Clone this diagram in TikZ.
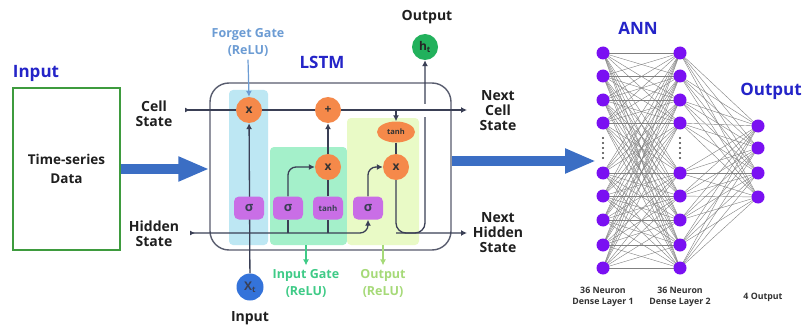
\documentclass[tikz,border=0pt]{standalone}
\usepackage{fontspec}
\setmainfont{Open Sans}
\usetikzlibrary{arrows.meta,shapes.geometric,calc}
\definecolor{ttlblue}{HTML}{2424C8}
\definecolor{lnc}{HTML}{3A3F55}
\definecolor{orng}{HTML}{F5894A}
\definecolor{purp}{HTML}{C96EE6}
\definecolor{fgb}{HTML}{BDE7F3}
\definecolor{igb}{HTML}{A4F0CA}
\definecolor{ogb}{HTML}{E9FAC6}
\definecolor{fgt}{HTML}{6C9CD4}
\definecolor{igt}{HTML}{3FCB87}
\definecolor{ogt}{HTML}{A6DA78}
\definecolor{bigarrow}{HTML}{3B6EC4}
\definecolor{htg}{HTML}{22B15C}
\definecolor{xtb}{HTML}{3473DA}
\definecolor{annp}{HTML}{7A10F2}
\definecolor{boxg}{HTML}{3E9B3E}
\pgfdeclarelayer{bg}
\pgfdeclarelayer{mid}
\pgfsetlayers{bg,mid,main}
\begin{document}
\begin{tikzpicture}[x=1pt,y=-1pt,
  lbl/.style={align=center, font=\bfseries\fontsize{14}{15}\selectfont, text=black!88},
  ttl/.style={font=\bfseries\fontsize{17}{19}\selectfont, text=ttlblue},
  gatelbl/.style={align=center, font=\bfseries\fontsize{12.5}{17}\selectfont},
  mult/.style={circle, fill=orng, minimum size=26pt, inner sep=0pt, font=\bfseries\fontsize{12}{12}\selectfont, text=black!80},
  sig/.style={rounded corners=5pt, fill=purp, minimum width=30pt, minimum height=23pt, inner sep=0pt, font=\bfseries\fontsize{13}{13}\selectfont, text=lnc},
  flow/.style={draw=lnc, line width=1.3pt},
  tip/.style={-{Latex[length=6pt,width=6pt]}},
  neuron/.style={circle, fill=annp, minimum size=13pt, inner sep=0pt},
  syn/.style={draw=black!50, line width=0.4pt},
  bigarr/.style={draw=bigarrow, line width=10pt, -{Triangle[length=31pt,width=23pt]}},
  annlbl/.style={align=center, font=\bfseries\fontsize{8.8}{10.5}\selectfont, text=black!80},
]
\useasboundingbox (0,0) rectangle (802,326);
\begin{pgfonlayer}{bg}
\fill[white] (0,0) rectangle (802,326);
% gate bands
\fill[fgb, rounded corners=4pt] (229,90) rectangle (268,245);
\fill[igb, rounded corners=4pt] (270,147) rectangle (347,245);
\fill[ogb, rounded corners=4pt] (347,118) rectangle (419,245);
\node[draw=lnc!85, line width=1.4pt, rounded corners=19pt, minimum width=241pt, minimum height=167pt, inner sep=0pt] (lstm) at (330.5,166.5) {};
\end{pgfonlayer}

% titles
\node[ttl] (tin) at (36,73) {Input};
\node[ttl] (tlstm) at (322,62) {LSTM};
\node[ttl] (tann) at (638,28) {ANN};
\node[ttl] (tout) at (771,91) {Output};

% input box
\node[draw=boxg, line width=1.3pt, minimum width=107pt, minimum height=162pt, inner sep=0pt, lbl, font=\bfseries\fontsize{13.5}{19}\selectfont] (ts) at (66.5,169) {Time-series\\Data};

% side labels
\node[lbl] (lcell) at (154,114) {Cell\\State};
\node[lbl] (lhid) at (154,234) {Hidden\\State};
\node[lbl] (ncell) at (498,111) {Next\\Cell\\State};
\node[lbl] (nhid) at (498,233) {Next\\Hidden\\State};
\node[lbl] (lout) at (427,17) {Output};
\node[lbl] (lxin) at (250,318) {Input};

% gate labels
\node[gatelbl, text=fgt] (lfg) at (248,42) {Forget Gate\\(ReLU)};
\node[gatelbl, text=igt] (lig) at (306,283) {Input Gate\\(ReLU)};
\node[gatelbl, text=ogt] (log) at (383,283) {Output\\(ReLU)};

% LSTM operators
\node[mult] (fm) at (249,110) {x};
\node[mult] (plus) at (328,110) {+};
\node[mult] (im) at (328,167) {x};
\node[mult] (om) at (396,167) {x};
\node[ellipse, fill=orng, minimum width=38pt, minimum height=21pt, inner sep=0pt, font=\bfseries\fontsize{7.5}{8}\selectfont, text=black!80] (to) at (396,132) {tanh};
\node[sig] (sf) at (249,208) {σ};
\node[sig] (si) at (288,208) {σ};
\node[sig, font=\bfseries\fontsize{8}{8}\selectfont] (ti) at (328,208) {tanh};
\node[sig] (so) at (368,208) {σ};
\node[circle, fill=htg, minimum size=26pt, inner sep=0pt, font=\bfseries\fontsize{12}{12}\selectfont, text=black!85] (ht) at (425,47) {h\textsubscript{t}};
\node[circle, fill=xtb, minimum size=27pt, inner sep=0pt, font=\bfseries\fontsize{12}{12}\selectfont, text=lnc] (xt) at (250,287) {X\textsubscript{t}};

\coordinate (cin) at (185,110);
\coordinate (cout) at (467,110);
\coordinate (hin) at (190,233);
\coordinate (hout) at (467,233);
\coordinate (annin) at (596,161);

\begin{pgfonlayer}{mid}
% big arrows
\draw[bigarr] (ts.east) -- (ts.east -| lstm.west);
\draw[bigarr] (lstm.east |- annin) -- (annin);
% gate label arrows
\draw[fgt, line width=1.2pt, tip] (lfg.south) -- (fm.north);
\draw[igt, line width=1.2pt, tip] (306,245) -- (lig.north);
\draw[ogt, line width=1.2pt, tip] (383,245) -- (log.north);
% flows
\draw[flow, tip] (xt) -- (fm);
\draw[flow] (si.south |- hin) -- (si.south);
\draw[flow] (ti.south |- hin) -- (ti.south);
\draw[flow, tip, rounded corners=8pt] (si.north) |- (im.west);
\draw[flow] (ti.north) -- (im.south);
\draw[flow, tip] (im.north) -- (plus.south);
\draw[flow, tip, rounded corners=8pt] (so.north) |- (om.west);
\draw[flow] (to.south) -- (om.north);
\draw[flow, tip, rounded corners=10pt] (om.south) |- (hout);
\draw[flow, tip, rounded corners=10pt] (om.south |- hin) -| (ht.south);
\fill[white] (421,104) rectangle (429,117);
\draw[flow, {Latex[reversed,length=5pt,width=5pt]}-{Latex[length=6pt,width=6pt]}] (cin) -- (cout);
\draw[flow, tip] (to.north |- cin) -- (to.north);
\draw[flow, {Latex[reversed,length=5pt,width=5pt]}-{Latex[length=6pt,width=6pt]}, rounded corners=8pt] (hin) -| (so.south);
\end{pgfonlayer}

% ANN
\foreach \i/\y in {1/53,2/76,3/100,4/123,5/173,6/196,7/220,8/245,9/268} {
  \node[neuron] (a\i) at (603,\y) {};
  \node[neuron] (b\i) at (680,\y) {};
}
\foreach \i/\y in {1/126,2/148,3/173,4/197} {
  \node[neuron] (c\i) at (758,\y) {};
}
\begin{pgfonlayer}{mid}
\foreach \i in {1,...,9} {
  \foreach \j in {1,...,9} { \draw[syn] (a\i.center) -- (b\j.center); }
  \foreach \k in {1,...,4} { \draw[syn] (b\i.center) -- (c\k.center); }
}
\end{pgfonlayer}
\foreach \y in {138,143,148,153,158} {
  \fill[black!75] (603,\y) circle (1.2pt);
  \fill[black!75] (680,\y) circle (1.2pt);
}
\node[annlbl] (l1) at (603,297) {36 Neuron\\Dense Layer 1};
\node[annlbl] (l2) at (680,297) {36 Neuron\\Dense Layer 2};
\node[annlbl] (l3) at (763,297) {4 Output};
\end{tikzpicture}
\end{document}
